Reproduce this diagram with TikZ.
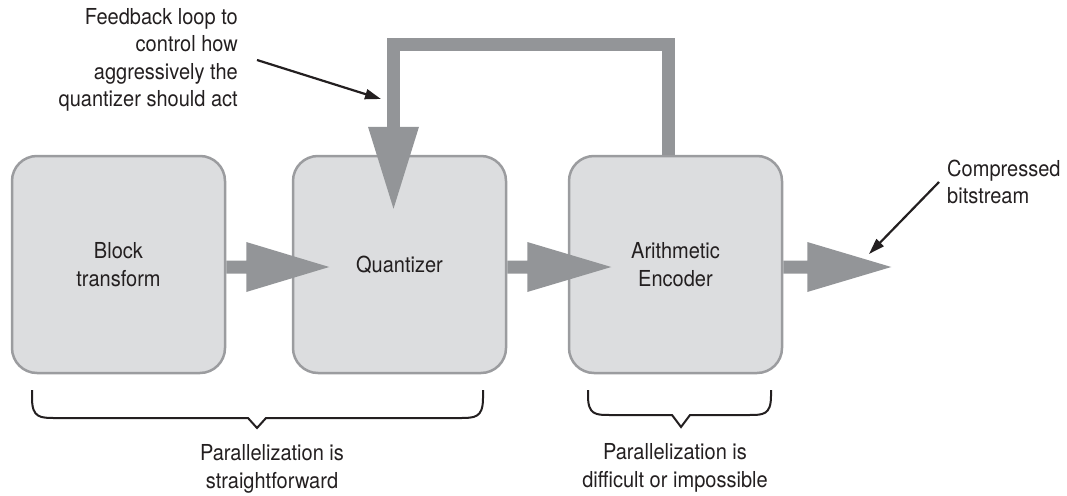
\documentclass[tikz,border=0pt]{standalone}
\usepackage{fontspec}
\setmainfont{TeX Gyre Heros}[FakeStretch=0.91]
\usetikzlibrary{arrows.meta,calc,backgrounds}
\definecolor{boxfill}{HTML}{DCDDDF}
\definecolor{boxline}{HTML}{9B9C9F}
\definecolor{arrgray}{HTML}{939598}
\definecolor{txt}{HTML}{231F20}
\tikzset{
 box/.style={draw=boxline, fill=boxfill, line width=2.5pt, rounded corners=25pt,
   minimum width=213pt, minimum height=217pt, align=center, inner sep=0pt},
 lbl/.style={font=\fontsize{22}{27.5}\selectfont, text=txt, inner sep=0pt},
 ptr/.style={draw=txt, line width=2.2pt, -{Triangle[length=16pt,width=10pt]}},
 fatline/.style={draw=arrgray, line width=13pt, line join=miter},
 bracestyle/.style={draw=txt, line width=2pt},
}
\newcommand{\fatR}[3]{%
 \fill[arrgray] ($(#1)+(0,-6.5)$) -- ++(#2,0) -- ++(0,-18.5) -- ++(#3,25)
   -- ++(-#3,25) -- ++(0,-18.5) -- ++(-#2,0) -- cycle;}
\begin{document}
\begin{tikzpicture}[x=1pt,y=-1pt]
\useasboundingbox (0,0) rectangle (1067,495);
% boxes
\node[box,lbl] (b1) at (118.5,264.5) {Block\\transform};
\node[box,lbl] (b2) at (399.5,264.5) {Quantizer};
\node[box,lbl] (b3) at (675.5,264.5) {Arithmetic\\Encoder};
% feedback loop shaft
\coordinate (fbhead) at ([xshift=-6pt,yshift=28pt]b2.north);
\coordinate (fbtop) at (0,44.5);
\begin{scope}[on background layer]
 \draw[fatline] ([xshift=-7pt]b3.north) |- (fbtop -| fbhead) -- (fbhead);
\end{scope}
\fill[arrgray] ($(fbhead)+(-25.5,0)$) -- ($(fbhead)+(25.5,0)$) -- ($(fbhead)+(0,82)$) -- cycle;
% forward arrows
\fatR{$(b1.east)+(0,2.5)$}{20}{83}
\fatR{$(b2.east)+(0,2.5)$}{20}{84}
\fatR{$(b3.east)+(0,2.5)$}{24}{84}
% annotations
\node[lbl,align=right,anchor=east] (fb) at (238,60)
  {Feedback loop to\\control how\\aggressively the\\quantizer should act};
\coordinate (p1e) at (381,99);
\draw[ptr] ([xshift=19pt]fb.east) -- (p1e);
\node[lbl,align=left,anchor=west] (cb) at (947,182) {Compressed\\bitstream};
\coordinate (p2e) at (869,254);
\draw[ptr] ([xshift=-8pt]cb.west) -- (p2e);
% braces
\draw[bracestyle] (32,390) -- (32,398) .. controls (32,418) and (40,418) .. (56,418) -- (248,418)
  -- (257,428) -- (266,418) -- (459,418) .. controls (475,418) and (483,418) .. (483,398) -- (483,390);
\draw[bracestyle] (588,390) -- (588,396) .. controls (588,415) and (596,415) .. (610,415) -- (672,415)
  -- (681,427) -- (690,415) -- (749,415) .. controls (763,415) and (771,415) .. (771,396) -- (771,390);
\node[lbl,align=center] (t1) at (272,469) {Parallelization is\\straightforward};
\node[lbl,align=center] (t2) at (675,468) {Parallelization is\\difficult or impossible};
\end{tikzpicture}
\end{document}
